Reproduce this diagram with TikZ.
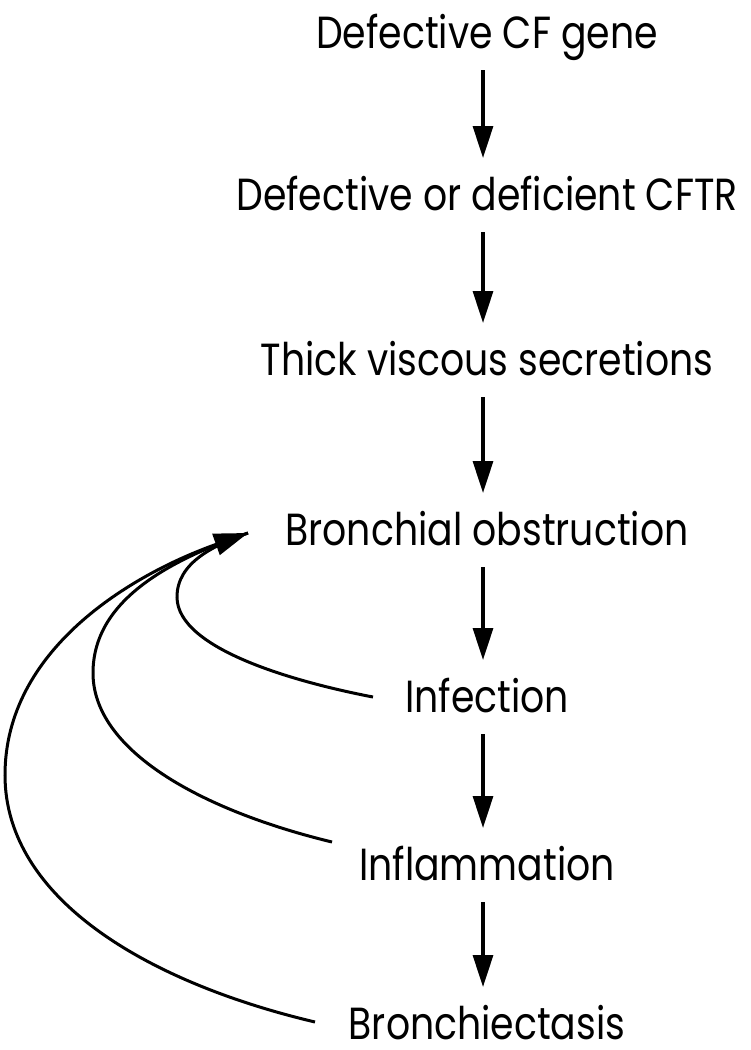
\documentclass[tikz,border=0pt]{standalone}
\usepackage{fontspec}
\setmainfont[FakeStretch=0.84]{Poppins}
\usetikzlibrary{arrows.meta}
\begin{document}
\begin{tikzpicture}[x=1pt,y=-1pt,
  lbl/.style={anchor=base, inner sep=0pt, outer sep=0pt,
    font=\fontsize{45}{54}\selectfont, text height=35pt, text depth=0pt},
  arr/.style={line width=3.2pt, -{Triangle[length=32pt,width=20pt]},
    shorten <=22pt, shorten >=17pt},
  fb/.style={line width=3pt},
  fbarr/.style={line width=3pt, -{Triangle[length=34pt,width=22pt]}}]
\useasboundingbox (0,0) rectangle (751,1050);

\node[lbl] (gene) at (487,48)   {Defective CF gene};
\node[lbl] (cftr) at (487,210)  {Defective or deficient CFTR};
\node[lbl] (thick) at (487,375) {Thick viscous secretions};
\node[lbl] (obst) at (487,545)  {Bronchial obstruction};
\node[lbl] (inf) at (487,712)   {Infection};
\node[lbl] (infl) at (487,880)  {Inflammation};
\node[lbl] (bx) at (487,1039)   {Bronchiectasis};

\draw[arr] ([xshift=-4pt]gene.south)  -- ([xshift=-4pt]cftr.north);
\draw[arr] ([xshift=-4pt]cftr.south)  -- ([xshift=-4pt]thick.north);
\draw[arr] ([xshift=-4pt]thick.south) -- ([xshift=-4pt]obst.north);
\draw[arr] ([xshift=-4pt]obst.south)  -- ([xshift=-4pt]inf.north);
\draw[arr] ([xshift=-4pt]inf.south)   -- ([xshift=-4pt]infl.north);
\draw[arr] ([xshift=-4pt]infl.south)  -- ([xshift=-4pt]bx.north);

\coordinate (tip) at (248,533);
\coordinate (s1) at (373,697);
\coordinate (s2) at (332,842);
\coordinate (s3) at (315,1022);

\draw[fb] (s1) .. controls (300,683) and (177,650) .. (177,597)
  .. controls (177,562) and (215,545) .. (tip);
\draw[fb] (s2) .. controls (200,810) and (93,750) .. (93,673)
  .. controls (93,600) and (170,560) .. (tip);
\draw[fbarr] (s3) .. controls (150,983) and (5,900) .. (5,775)
  .. controls (5,650) and (130,575) .. (tip);
\end{tikzpicture}
\end{document}
